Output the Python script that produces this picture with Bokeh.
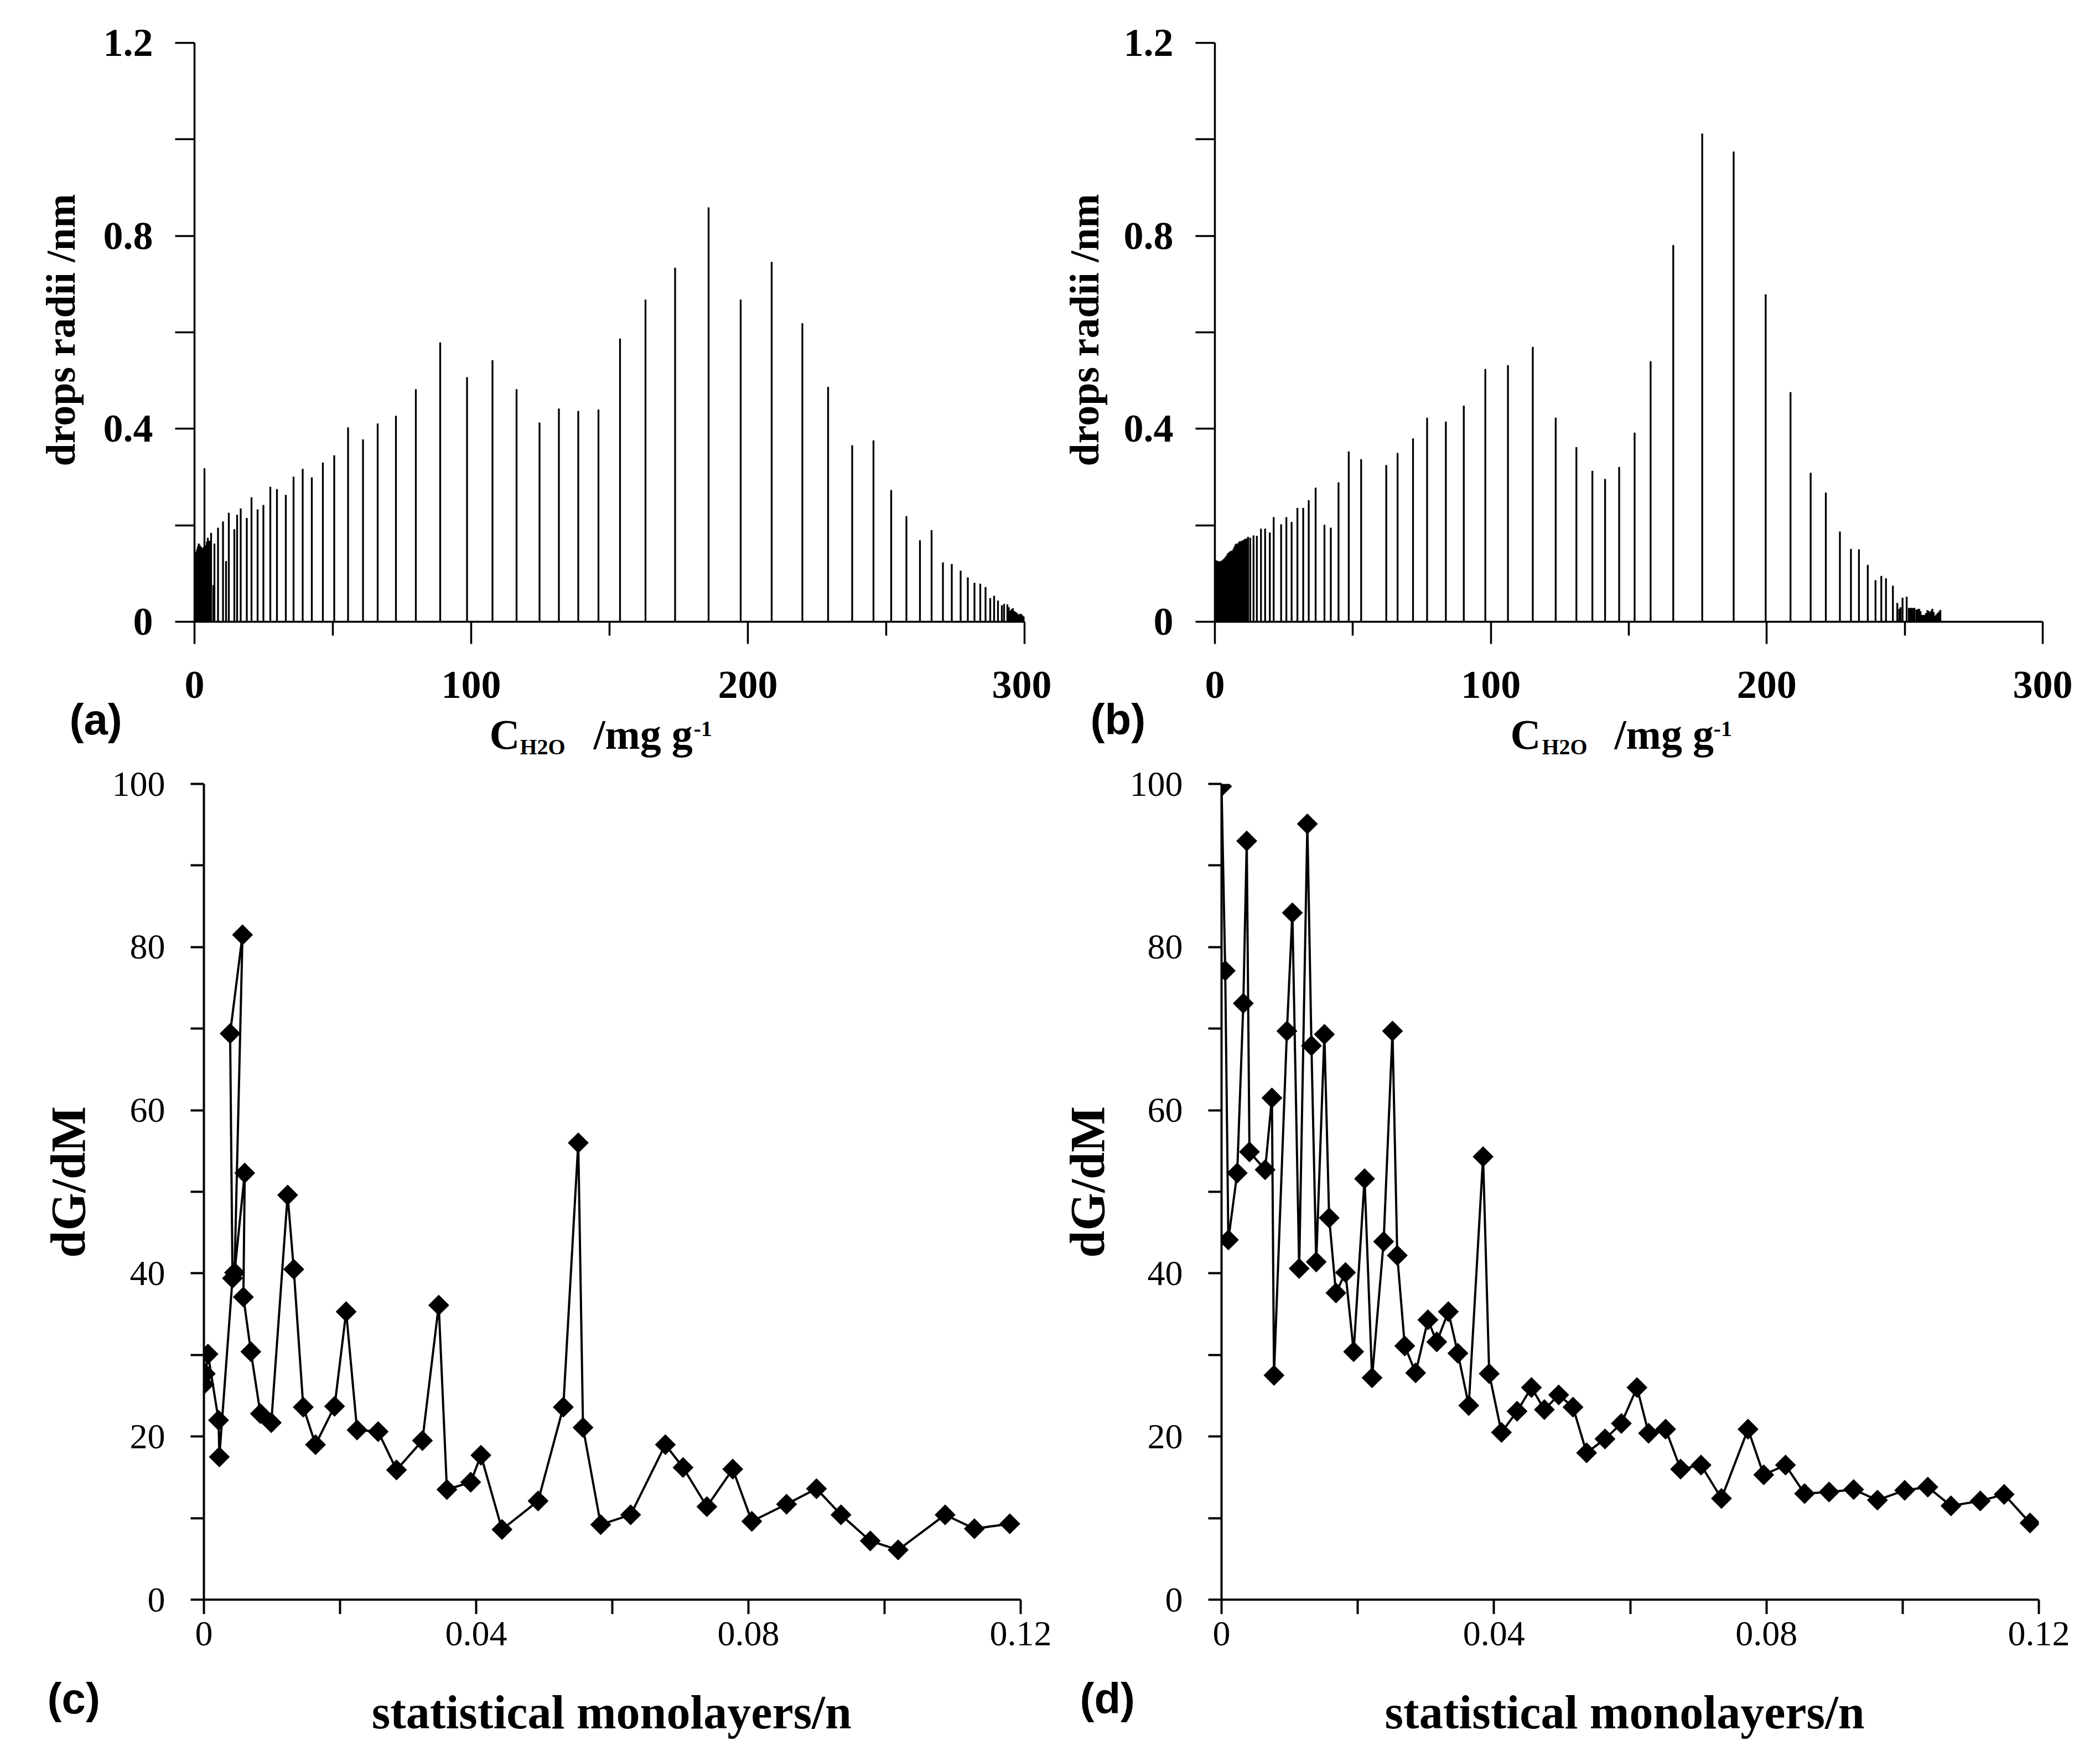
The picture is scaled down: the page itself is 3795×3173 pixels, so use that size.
import numpy as np
from bokeh.plotting import figure
from bokeh.models import Range1d, FixedTicker, CustomJSTickFormatter, Label, ColumnDataSource
from bokeh.layouts import column, row
from bokeh.embed import file_html
from bokeh.resources import INLINE

SERIF = "Liberation Serif"
SANS = "Liberation Sans"
NB = "\u00a0"

# ---------------- data ----------------
# panel (a): drops radii vs C_H2O
a_x = [0.3, 0.6, 0.9, 1.2, 1.5, 1.8, 2.1, 2.4, 2.7, 3.0, 3.3, 3.6, 3.9, 4.2, 4.5, 4.8,
       5.4, 6.0, 6.8, 7.2, 8.5, 10.3, 11.4, 12.4, 14.4, 15.4, 16.7, 18.9, 20.6, 22.8,
       24.9, 27.4, 29.8, 33.0, 35.8, 39.1, 42.4, 46.4, 50.5, 55.5, 60.9, 66.2, 72.8,
       80.0, 88.8, 98.5, 107.7, 116.4, 124.7, 131.7, 138.7, 146.0, 153.8, 163.0, 173.7,
       185.8, 197.4, 208.6, 219.7, 229.0, 237.7, 245.4, 251.8, 257.3, 262.2, 266.4,
       270.5, 273.7, 276.9, 279.5, 281.9, 284.0, 285.9, 287.6, 289.0, 290.4, 291.8,
       292.6, 293.8, 294.3, 294.8, 295.3, 295.8, 296.3, 296.8, 297.3, 297.8, 298.3,
       298.8, 299.3, 299.8]
a_r = [0.142, 0.145, 0.150, 0.156, 0.162, 0.160, 0.157, 0.155, 0.153, 0.150, 0.155, 0.318,
       0.152, 0.159, 0.166, 0.174, 0.168, 0.184, 0.076, 0.162, 0.195, 0.208, 0.126, 0.226,
       0.192, 0.222, 0.235, 0.215, 0.258, 0.233, 0.242, 0.280, 0.275, 0.263, 0.301, 0.317,
       0.299, 0.330, 0.345, 0.403, 0.378, 0.411, 0.427, 0.482, 0.579, 0.507, 0.542, 0.482,
       0.413, 0.442, 0.437, 0.440, 0.587, 0.668, 0.734, 0.859, 0.668, 0.746, 0.619, 0.487,
       0.366, 0.376, 0.273, 0.219, 0.169, 0.190, 0.123, 0.120, 0.106, 0.092, 0.081, 0.079,
       0.072, 0.049, 0.054, 0.044, 0.034, 0.037, 0.036, 0.030, 0.023, 0.026, 0.028, 0.022,
       0.020, 0.018, 0.015, 0.016, 0.016, 0.013, 0.011]

# panel (b)
b_x = [0.2, 0.6, 1.0, 1.4, 1.8, 2.2, 2.6, 3.0, 3.4, 3.8, 4.2, 4.6, 5.0, 5.4, 5.8, 6.2,
       6.6, 7.0, 7.4, 7.8, 8.2, 8.6, 9.0, 9.4, 9.8, 10.2, 10.6, 11.0, 11.4,
       12.0, 12.8, 14.0, 15.2, 16.7, 18.2, 19.9, 21.3, 24.0, 25.9, 27.8, 29.9, 32.0, 34.0,
       36.5, 39.7, 42.0, 44.8, 48.5, 53.0, 62.1, 66.2, 71.8, 76.9, 83.7, 90.2, 98.0,
       106.2, 115.2, 123.5, 131.0, 136.8, 141.4, 146.5, 152.1, 157.9, 166.1, 176.6,
       188.0, 199.6, 208.6, 215.9, 221.4, 226.5, 230.5, 233.4, 236.6, 239.4, 241.5,
       243.2, 245.7, 247.3, 248.0, 248.5, 249.2, 250.7, 251.5, 252.0, 252.5, 253.0,
       253.5, 254.2, 254.7, 255.2, 255.7, 256.2, 256.7, 257.2, 257.7, 258.2, 258.7,
       259.2, 259.6, 260.0, 260.5, 260.9, 261.4, 261.9, 262.4, 262.9]
b_r = [0.128, 0.127, 0.125, 0.126, 0.124, 0.126, 0.127, 0.129, 0.131, 0.134, 0.137, 0.141,
       0.143, 0.145, 0.147, 0.146, 0.150, 0.155, 0.160, 0.162, 0.161, 0.164, 0.167, 0.166,
       0.168, 0.169, 0.170, 0.172, 0.172,
       0.176, 0.174, 0.179, 0.178, 0.193, 0.193, 0.185, 0.217, 0.202, 0.217, 0.207, 0.236,
       0.236, 0.252, 0.278, 0.201, 0.195, 0.289, 0.353, 0.337, 0.325, 0.350, 0.380, 0.423,
       0.415, 0.448, 0.524, 0.532, 0.570, 0.423, 0.362, 0.313, 0.296, 0.321, 0.392, 0.540,
       0.781, 1.012, 0.975, 0.679, 0.476, 0.309, 0.268, 0.187, 0.151, 0.150, 0.118, 0.086,
       0.095, 0.090, 0.075, 0.039, 0.027, 0.030, 0.050, 0.052, 0.029, 0.028, 0.029, 0.028,
       0.029, 0.025, 0.026, 0.027, 0.022, 0.014, 0.014, 0.014, 0.018, 0.024, 0.022, 0.0195,
       0.023, 0.027, 0.020, 0.012, 0.015, 0.018, 0.021, 0.0245]

# panel (c): dG/dM vs statistical monolayers
c_n = [0.0, 0.0002, 0.0006, 0.00215, 0.00227, 0.0042, 0.00385, 0.00567, 0.0045, 0.006,
       0.0058, 0.0069, 0.0083, 0.0099, 0.0123, 0.0132, 0.0146, 0.0164, 0.0192, 0.0209,
       0.0225, 0.0256, 0.0283, 0.0321, 0.0345, 0.0357, 0.0392, 0.0407, 0.0438, 0.0491,
       0.0528, 0.055, 0.0557, 0.0583, 0.0627, 0.0678, 0.0704, 0.0739, 0.0777, 0.0805,
       0.0856, 0.09, 0.0936, 0.0979, 0.102, 0.1089, 0.1132, 0.1184]
c_g = [26.4, 27.7, 30.1, 22.0, 17.5, 39.4, 69.4, 81.5, 40.1, 52.3, 37.1, 30.4, 22.8, 21.7,
       49.6, 40.5, 23.6, 19.0, 23.7, 35.3, 20.8, 20.6, 15.9, 19.5, 36.1, 13.5, 14.4, 17.7,
       8.6, 12.1, 23.6, 56.0, 21.1, 9.2, 10.4, 19.0, 16.2, 11.4, 16.0, 9.6, 11.7, 13.6,
       10.4, 7.2, 6.1, 10.4, 8.7, 9.3]

# panel (d)
d_n = [0.0, 0.00054, 0.001, 0.0023, 0.0032, 0.0037, 0.0041, 0.0064, 0.0074, 0.0077,
       0.0096, 0.0104, 0.0114, 0.0126, 0.0132, 0.0139, 0.0151, 0.0158, 0.0168, 0.0182,
       0.0194, 0.021, 0.0221, 0.0238, 0.0251, 0.0258, 0.0269, 0.0285, 0.0303, 0.0316,
       0.0333, 0.0347, 0.0363, 0.0384, 0.0393, 0.0411, 0.0434, 0.0455, 0.0474, 0.0495,
       0.0516, 0.0536, 0.0563, 0.0587, 0.061, 0.0627, 0.0652, 0.0674, 0.0704, 0.0734,
       0.0773, 0.0796, 0.0828, 0.0856, 0.0892, 0.0928, 0.0963, 0.1003, 0.1037, 0.1071,
       0.1114, 0.1149, 0.1187]
d_g = [99.7, 77.1, 44.1, 52.3, 73.1, 93.0, 54.9, 52.7, 61.5, 27.5, 69.7, 84.2, 40.6, 95.1,
       67.9, 41.4, 69.3, 46.8, 37.6, 40.1, 30.4, 51.6, 27.2, 43.9, 69.7, 42.2, 31.1, 27.8,
       34.3, 31.6, 35.3, 30.2, 23.8, 54.3, 27.7, 20.5, 23.1, 26.0, 23.3, 25.1, 23.6, 18.0,
       19.7, 21.6, 26.0, 20.4, 20.9, 16.0, 16.5, 12.4, 20.9, 15.3, 16.5, 13.0, 13.2, 13.5,
       12.2, 13.4, 13.8, 11.5, 12.1, 12.9, 9.4]

top_xticks = [0, 100, 200, 300]
top_xminor = [50, 150, 250]
top_yticks = [0, 0.4, 0.8, 1.2]
top_yminor = [0.2, 0.6, 1.0]
bot_xticks = [0, 0.04, 0.08, 0.12]
bot_xminor = [0.02, 0.06, 0.10]
bot_yticks = [0, 20, 40, 60, 80, 100]
bot_yminor = [10, 30, 50, 70, 90]

assert len(a_x) == len(a_r) and len(b_x) == len(b_r)
assert len(c_n) == len(c_g) and len(d_n) == len(d_g)


def lab(p, side, text, x, y, size, font=SERIF, style="bold", align="left",
        baseline="middle", angle=0.0):
    # label placed in a side panel (so it is not clipped to the frame),
    # positioned with the figure's own data scales
    p.add_layout(Label(x=x, y=y, text=text,
                       text_font=font, text_font_style=style,
                       text_font_size=f"{size}px", text_color="black",
                       text_align=align, text_baseline=baseline, angle=angle), side)


def style_axes(p, xt, xm, yt, ym, xtick, ytick, xmtick, font_size, font_style,
               xstand, ystand, lw):
    p.outline_line_color = None
    p.grid.visible = False
    fmt = CustomJSTickFormatter(code="return String(tick);")
    for ax, t, m in ((p.xaxis[0], xt, xm), (p.yaxis[0], yt, ym)):
        ax.ticker = FixedTicker(ticks=t, minor_ticks=m)
        ax.formatter = fmt
        ax.axis_line_color = "black"
        ax.axis_line_width = lw
        ax.major_tick_line_color = "black"
        ax.minor_tick_line_color = "black"
        ax.major_tick_line_width = lw
        ax.minor_tick_line_width = lw
        ax.major_tick_in = 0
        ax.minor_tick_in = 0
        ax.major_label_text_font = SERIF
        ax.major_label_text_font_style = font_style
        ax.major_label_text_font_size = f"{font_size}px"
        ax.major_label_text_color = "black"
    p.xaxis[0].major_tick_out = xtick
    p.xaxis[0].minor_tick_out = xmtick
    p.yaxis[0].major_tick_out = ytick
    p.yaxis[0].minor_tick_out = ytick
    p.xaxis[0].major_label_standoff = xstand
    p.yaxis[0].major_label_standoff = ystand


# layout in page pixels (the page body has no margin)
TOP_B, TOP_H, TOP_BOT = 77, 1046, 255      # row 1: frame 77..1123
BOT_T, BOT_H, BOT_BOT = 38, 1474, 281      # row 2: frame 1416..2890


def top_panel(xs, hs, L, fw, R):
    p = figure(width=L + fw + R, height=TOP_B + TOP_H + TOP_BOT,
               x_range=Range1d(0, 300), y_range=Range1d(0, 1.2),
               output_backend="svg", toolbar_location=None, title=None,
               min_border_left=L, min_border_right=R,
               min_border_top=TOP_B, min_border_bottom=TOP_BOT)
    style_axes(p, top_xticks, top_xminor, top_yticks, top_yminor,
               40, 35, 25, 72, "bold", 50, 40, 3.5)
    src = ColumnDataSource(dict(x=xs, h=hs))
    p.segment(x0="x", y0=0, x1="x", y1="h", source=src,
              line_color="black", line_width=3.3)
    return p


def bottom_panel(ns, gs, L, fw, R):
    p = figure(width=L + fw + R, height=BOT_T + BOT_H + BOT_BOT,
               x_range=Range1d(0, 0.12), y_range=Range1d(0, 100),
               output_backend="svg", toolbar_location=None, title=None,
               min_border_left=L, min_border_right=R,
               min_border_top=BOT_T, min_border_bottom=BOT_BOT)
    style_axes(p, bot_xticks, bot_xminor, bot_yticks, bot_yminor,
               26, 24, 26, 64, "normal", 14, 46, 4)
    p.line(ns, gs, line_color="black", line_width=4)
    p.scatter(ns, gs, marker="square", size=26, angle=np.pi / 4,
              fill_color="black", line_color="black")
    return p


pa = top_panel(a_x, a_r, 351, 1500, 49)
pb = top_panel(b_x, b_r, 295, 1496, 102)
pc = bottom_panel(c_n, c_g, 368, 1476, 56)
pd = bottom_panel(d_n, d_g, 307, 1477, 109)

# ---- panel (a) texts ----
lab(pa, "left", "drops radii /nm", -48.4, 0.6046, 74, align="center",
    angle=np.pi / 2)
lab(pa, "left", "(a)", -45.2, -0.202, 78, font=SANS)
lab(pa, "below", "C" + NB * 7 + "/mg g", 106.6, -0.234, 76)
lab(pa, "above", "H2O", 117.6, -0.2587, 40)
lab(pa, "right", "-1", 180.4, -0.2215, 40)

# ---- panel (b) texts ----
lab(pb, "left", "drops radii /nm", -47.3, 0.6046, 74, align="center",
    angle=np.pi / 2)
lab(pb, "left", "-1", 180.7, -0.2215, 40)
lab(pb, "below", "C" + NB * 7 + "/mg g", 107.1, -0.234, 76)
lab(pb, "above", "H2O", 118.5, -0.2587, 40)
lab(pb, "right", "(b)", -45.1, -0.202, 78, font=SANS)

# ---- panel (c) texts ----
lab(pc, "left", "dG/dM", -0.0199, 51.2, 88, align="center", angle=np.pi / 2)
lab(pc, "left", "(c)", -0.0230, -12.1, 78, font=SANS)
lab(pc, "below", "statistical monolayers/n", 0.0599, -13.8, 86, align="center")

# ---- panel (d) texts ----
lab(pd, "left", "dG/dM", -0.01966, 51.2, 88, align="center", angle=np.pi / 2)
lab(pd, "below", "statistical monolayers/n", 0.0592, -13.8, 86, align="center")
lab(pd, "right", "(d)", -0.0208, -12.1, 78, font=SANS)

layout = column(row(pa, pb, spacing=0), row(pc, pd, spacing=0), spacing=0)

with open("out.html", "w") as f:
    f.write(file_html(layout, INLINE))
